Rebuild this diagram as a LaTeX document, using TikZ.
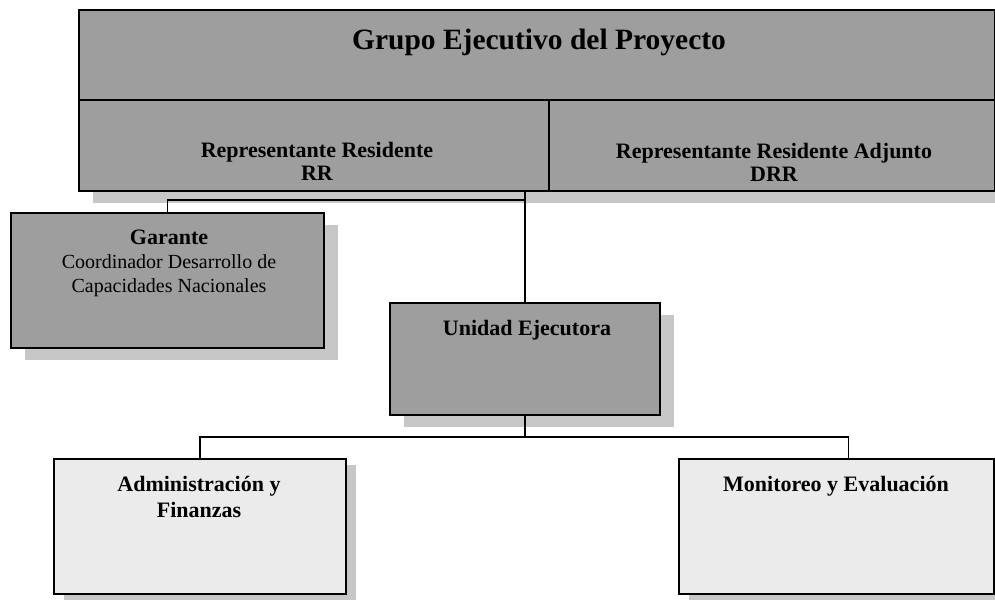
\documentclass[tikz,border=0pt]{standalone}
\usepackage{fontspec}
\setmainfont{Liberation Serif}
\usetikzlibrary{positioning,shadows}

\begin{document}
\begin{tikzpicture}[x=1pt,y=-1pt,
  darkbox/.style={draw, line width=1.6pt, fill=black!38, anchor=north west, inner sep=0pt,
    general shadow={fill=black!22, shadow xshift=14pt, shadow yshift=-12pt}},
  lightbox/.style={draw, line width=1.6pt, fill=black!8, anchor=north west, inner sep=0pt,
    general shadow={fill=black!22, shadow xshift=10pt, shadow yshift=-6pt}},
  boxtext/.style={anchor=base, align=center, inner sep=0pt, font=\fontsize{22}{23}\selectfont\bfseries},
  link/.style={line width=1.6pt}]
\useasboundingbox (0,0) rectangle (995,602);

\node[darkbox, minimum width=916pt, minimum height=90pt] (grupo) at (78,9) {};
\node[darkbox, minimum width=470pt, minimum height=91pt, general shadow={fill=black!22, shadow xshift=14pt, shadow yshift=-8pt}] (rr) at (78,99) {};
\node[darkbox, minimum width=446pt, minimum height=91pt, general shadow={fill=black!22, shadow xshift=14pt, shadow yshift=-8pt}] (drr) at (548,99) {};
\node[darkbox, minimum width=313pt, minimum height=135pt] (garante) at (10,212) {};
\node[darkbox, minimum width=270pt, minimum height=112pt] (unidad) at (389,302) {};
\node[lightbox, minimum width=292pt, minimum height=135pt] (admin) at (53,458) {};
\node[lightbox, minimum width=315pt, minimum height=135pt] (monit) at (678,458) {};

\node[boxtext, font=\fontsize{29.5}{32}\selectfont\bfseries] (grupot) at (539,49) {Grupo Ejecutivo del Proyecto};
\node[boxtext] (rrt) at (317,180) {Representante Residente\\RR};
\node[boxtext] (drrt) at (774,181) {Representante Residente Adjunto\\DRR};
\node[boxtext, font=\fontsize{20}{24}\selectfont] (garantet) at (169,292) {\fontsize{22}{24}\selectfont\bfseries Garante\\Coordinador Desarrollo de\\Capacidades Nacionales};
\node[boxtext] (unidadt) at (527,335) {Unidad Ejecutora};
\node[boxtext, font=\fontsize{22}{26}\selectfont\bfseries] (admint) at (199,517) {Administración y\\Finanzas};
\node[boxtext] (monitt) at (836,491) {Monitoreo y Evaluación};

\coordinate (gjoin) at (unidad.north |- 0,200);
\coordinate (bjoin) at (unidad.south |- 0,437);
\draw[link] (unidad.north |- rr.south) -- (unidad.north);
\draw[link] (gjoin) -| (garante.north);
\draw[link] (unidad.south) -- (bjoin);
\draw[link] (admin.north) |- ([xshift=12pt]monit.north |- bjoin) -- ([xshift=12pt]monit.north);

\end{tikzpicture}
\end{document}
